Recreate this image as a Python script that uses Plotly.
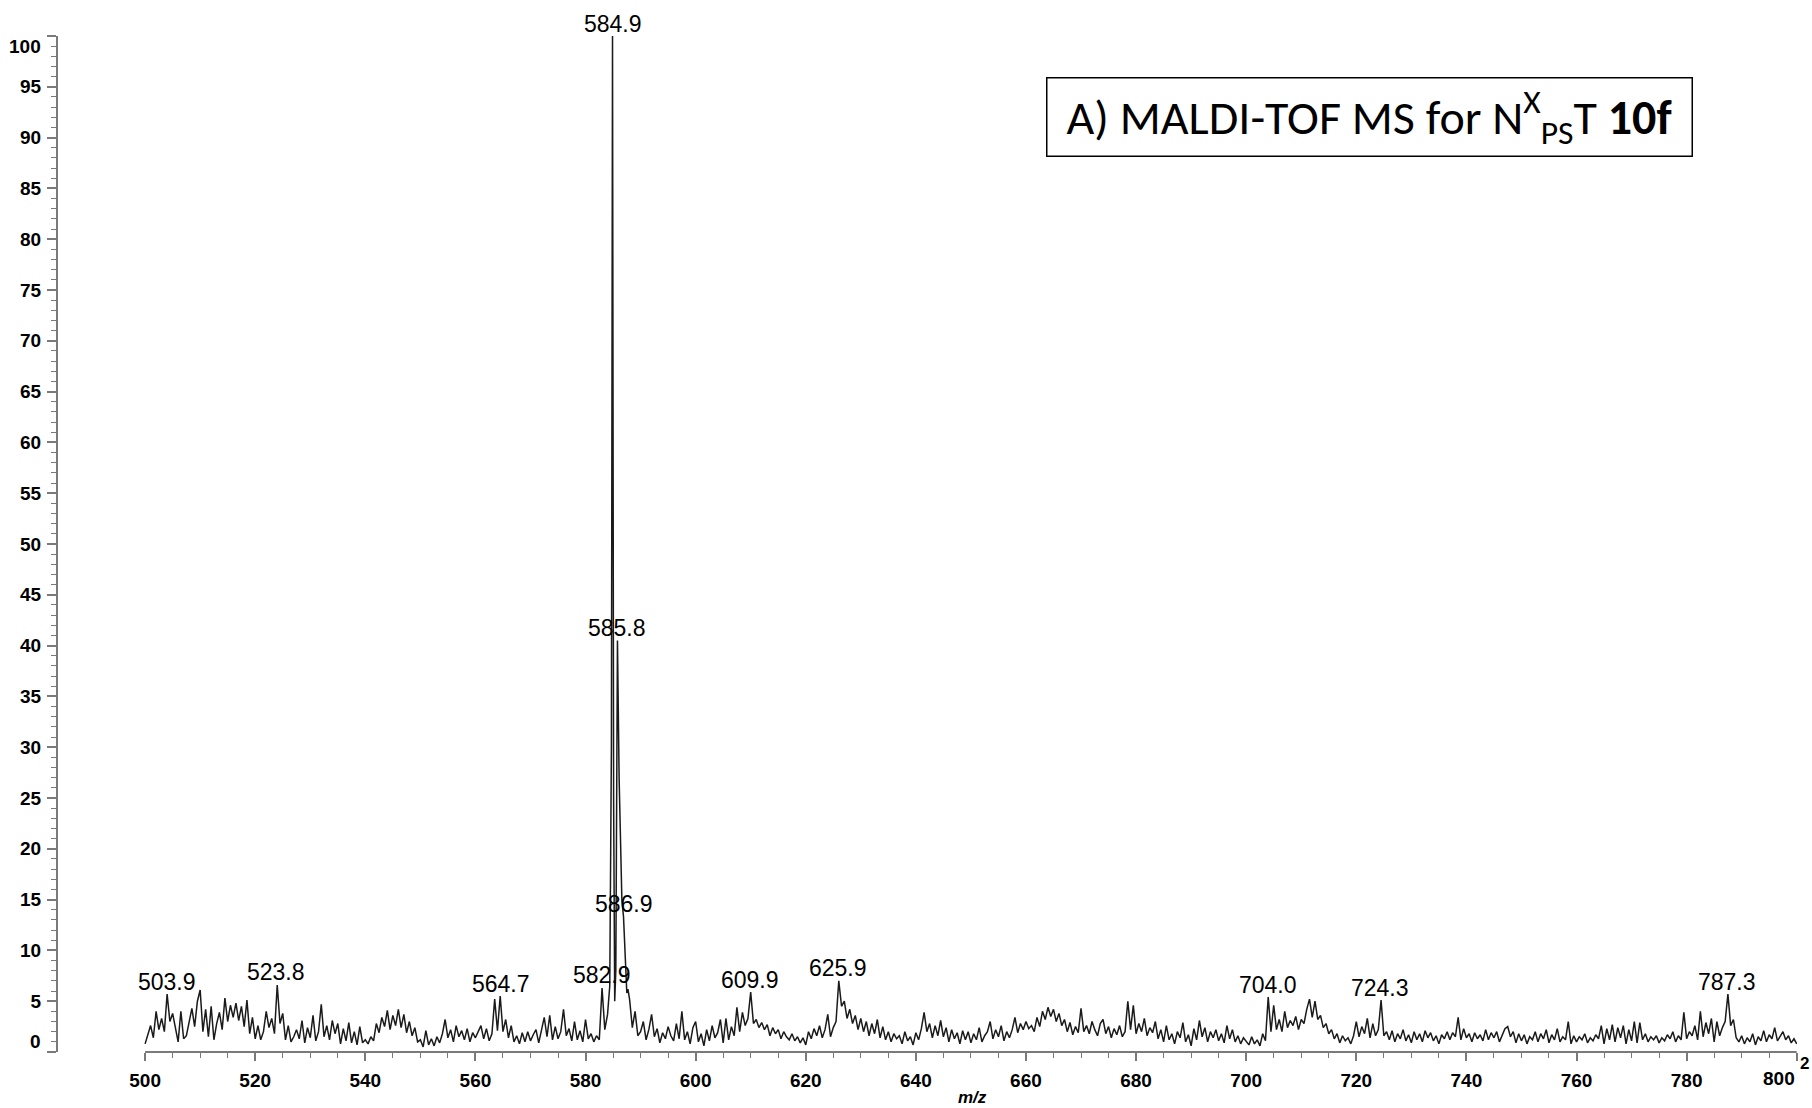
import plotly.graph_objects as go

# ---------------- data ----------------
STEP = 0.5  # m/z sampling interval of the spectrum rows

# baseline scan 500.0 .. 583.5 m/z (0.5 steps)
scan_a_start = 500.0
scan_a = [
    0.8, 1.6, 2.6, 1.4, 4.0, 2.2, 3.3, 2.0, 5.7, 3.0, 3.8, 2.4, 1.0, 4.0, 1.3, 1.6, 2.8, 4.3, 2.5, 5.0,  # 500
    6.1, 2.0, 4.2, 1.5, 4.5, 1.2, 2.8, 3.9, 2.2, 5.3, 3.0, 4.6, 3.4, 4.8, 3.1, 4.5, 2.5, 5.1, 1.8, 3.4,  # 510
    1.3, 2.6, 1.2, 2.0, 4.0, 2.4, 3.3, 1.8, 6.6, 2.8, 3.8, 1.2, 2.6, 1.0, 1.5, 2.2, 1.3, 3.1, 0.9, 2.4,  # 520
    1.4, 3.6, 1.1, 2.0, 4.7, 1.5, 2.6, 1.2, 3.1, 1.8, 2.8, 0.8, 2.3, 1.1, 2.9, 0.9, 2.0, 0.7, 2.5, 0.9,  # 530
    1.2, 0.8, 1.5, 1.1, 2.8, 1.9, 3.4, 2.5, 4.1, 2.2, 3.6, 2.6, 4.2, 2.4, 3.7, 1.9, 3.0, 1.6, 2.4, 1.0,  # 540
    1.2, 0.5, 2.1, 0.7, 1.3, 0.6, 1.5, 0.9, 1.8, 3.2, 1.4, 2.2, 1.0, 2.6, 1.5, 2.1, 1.2, 2.3, 1.0, 1.9,  # 550
    1.4, 2.0, 2.6, 1.3, 2.3, 1.1, 1.8, 5.2, 2.1, 5.5, 2.0, 3.2, 1.4, 2.6, 1.0, 1.6, 0.8, 1.9, 1.0, 2.0,  # 560
    1.1, 1.7, 2.2, 0.9, 2.0, 3.4, 1.5, 3.6, 1.2, 2.5, 1.3, 2.0, 4.2, 1.6, 2.3, 1.1, 3.0, 1.2, 2.1, 1.0,  # 570
    3.2, 1.3, 1.8, 1.0, 1.6, 1.2, 6.3, 2.2,                                                              # 580
]

# molecular-ion cluster (finely sampled)
peak_mz = [584.0, 584.4, 584.7, 584.9, 585.1, 585.3, 585.5, 585.8, 586.1, 586.4, 586.6, 586.9, 587.2, 587.5, 587.7]
peak_int = [3.7, 6.5, 30.0, 100.0, 25.0, 5.0, 8.0, 40.5, 27.0, 19.0, 15.0, 13.3, 9.0, 5.8, 6.2]

# baseline scan 588.0 .. 800.0 m/z (0.5 steps)
scan_b_start = 588.0
scan_b = [
    5.2, 2.4, 4.0, 1.6,                                                                                  # 588
    2.0, 3.0, 1.2, 2.2, 3.7, 1.5, 2.3, 0.9, 1.9, 1.3, 2.5, 1.6, 1.1, 2.8, 1.3, 4.0, 1.2, 2.0, 0.8, 2.4,  # 590
    3.0, 1.0, 1.8, 0.6, 2.2, 1.1, 2.6, 1.4, 1.9, 3.2, 0.9, 3.3, 1.2, 2.5, 1.6, 4.4, 2.0, 3.9, 2.6, 3.3,  # 600
    5.9, 2.8, 3.2, 2.4, 2.9, 2.2, 2.7, 1.6, 2.4, 1.8, 2.2, 1.3, 2.0, 1.5, 1.2, 1.8, 1.1, 1.5, 0.9, 1.4,  # 610
    0.7, 2.0, 1.3, 2.3, 1.6, 2.6, 1.4, 2.2, 3.7, 1.5, 2.4, 3.0, 7.0, 4.5, 5.0, 3.3, 4.2, 2.8, 3.6, 2.2,  # 620
    3.3, 2.0, 3.0, 1.6, 2.8, 1.8, 3.2, 1.4, 2.5, 1.2, 2.0, 1.0, 1.8, 1.3, 1.6, 0.8, 2.0, 1.1, 1.5, 0.7,  # 630
    1.9, 1.2, 2.3, 3.9, 2.0, 2.8, 1.4, 2.6, 1.6, 3.1, 1.5, 2.4, 1.0, 2.2, 1.3, 1.9, 0.8, 2.1, 1.2, 2.0,  # 640
    0.9, 1.8, 1.2, 2.4, 1.0, 1.6, 2.0, 3.0, 1.3, 2.2, 1.5, 2.6, 1.1, 2.0, 1.4, 2.2, 3.4, 1.9, 2.8, 2.2,  # 650
    3.0, 2.3, 2.6, 2.0, 3.4, 2.5, 4.0, 3.2, 4.4, 3.5, 4.2, 3.0, 3.8, 2.6, 3.2, 2.0, 2.9, 1.7, 2.5, 1.9,  # 660
    4.3, 2.0, 2.6, 1.8, 3.0, 2.2, 1.6, 2.8, 3.2, 1.8, 2.5, 1.4, 2.3, 1.7, 2.6, 1.5, 2.0, 5.0, 2.2, 4.6,  # 670
    1.8, 2.8, 2.0, 3.3, 1.6, 2.4, 1.9, 3.0, 1.3, 2.2, 1.0, 2.6, 1.2, 1.8, 0.8, 2.0, 1.4, 2.9, 1.0, 1.7,  # 680
    0.6, 2.3, 1.2, 3.1, 1.5, 2.4, 1.0, 2.0, 1.4, 2.2, 1.1, 1.8, 0.9, 2.6, 1.3, 2.2, 1.0, 1.6, 0.8, 1.4,  # 690
    1.0, 0.7, 1.5, 0.8, 1.2, 0.6, 1.8, 1.1, 5.4, 2.0, 4.6, 2.2, 3.2, 2.0, 4.0, 2.4, 3.1, 2.6, 3.5, 2.2,  # 700
    3.2, 2.8, 4.2, 5.2, 3.4, 5.0, 3.2, 3.6, 2.4, 2.8, 1.8, 2.2, 1.3, 1.8, 0.9, 1.6, 1.1, 1.4, 0.8, 1.6,  # 710
    3.0, 1.5, 2.5, 1.8, 3.3, 1.4, 2.8, 1.6, 2.2, 5.1, 1.6, 2.0, 1.2, 2.1, 1.0, 1.8, 1.3, 2.2, 1.1, 1.7,  # 720
    0.9, 2.0, 1.2, 1.8, 1.0, 2.1, 1.4, 1.9, 1.1, 1.6, 0.8, 1.7, 1.3, 2.0, 1.2, 1.9, 1.5, 3.4, 1.2, 2.3,  # 730
    1.4, 1.8, 1.0, 1.9, 1.3, 1.7, 1.1, 2.2, 1.2, 1.9, 1.4, 2.0, 1.0, 1.6, 2.3, 2.5, 1.5, 2.0, 0.9, 1.8,  # 740
    1.1, 1.7, 0.8, 1.5, 1.2, 2.0, 1.0, 1.8, 1.3, 2.2, 0.9, 1.7, 1.2, 2.3, 1.0, 1.5, 1.2, 3.0, 0.8, 1.6,  # 750
    1.0, 1.5, 1.2, 1.8, 0.9, 1.4, 1.1, 1.7, 1.3, 2.6, 0.8, 2.3, 1.2, 2.7, 1.0, 2.4, 1.4, 2.6, 0.8, 2.2,  # 760
    1.1, 3.0, 0.9, 2.9, 1.2, 1.8, 1.0, 1.5, 1.2, 1.6, 0.9, 1.4, 1.1, 1.7, 1.3, 2.0, 1.0, 1.6, 1.2, 3.9,  # 770
    1.3, 2.0, 1.6, 2.6, 1.2, 4.0, 1.5, 2.9, 1.8, 3.3, 1.0, 3.0, 1.6, 2.4, 3.0, 5.7, 2.6, 3.2, 1.4, 1.0,  # 780
    1.6, 0.8, 1.4, 1.0, 1.8, 0.7, 1.5, 1.1, 2.1, 1.0, 1.7, 1.3, 2.4, 1.1, 1.6, 2.0, 1.2, 1.6, 0.9, 1.3,  # 790
    0.8,                                                                                                 # 800
]

peak_labels = ["503.9", "523.8", "564.7", "582.9", "584.9", "585.8", "586.9",
               "609.9", "625.9", "704.0", "724.3", "787.3"]

x_major = [500, 520, 540, 560, 580, 600, 620, 640, 660, 680, 700, 720, 740, 760, 780, 800]
y_major = [0, 5, 10, 15, 20, 25, 30, 35, 40, 45, 50, 55, 60, 65, 70, 75, 80, 85, 90, 95, 100]

title_html = "A) MALDI-TOF MS for N<sup>X</sup><sub>PS</sub>T <b>10f</b>"

# ---------------- build spectrum ----------------
mz = ([scan_a_start + STEP * i for i in range(len(scan_a))] + peak_mz +
      [scan_b_start + STEP * i for i in range(len(scan_b))])
inten = scan_a + peak_int + scan_b

AX = "#7a7a7a"
FONT = "Arial, Liberation Sans, sans-serif"
TICKFONT = dict(family=FONT, size=19, color="black", weight="bold")

fig = go.Figure()
fig.add_trace(go.Scatter(x=mz, y=inten, mode="lines",
                         line=dict(color="#1a1a1a", width=1.5),
                         hoverinfo="skip", showlegend=False))

x_minor = [v for v in range(505, 800, 5) if v % 20 != 0]
y_minor = [v for v in range(1, 100) if v % 5 != 0]

fig.update_layout(
    width=1812, height=1108,
    margin=dict(l=58, r=15, t=36, b=56),
    paper_bgcolor="white", plot_bgcolor="white",
    xaxis=dict(range=[484.18, 800.05], showgrid=False, zeroline=False, showline=False,
               tickmode="array", tickvals=x_major,
               ticktext=[str(v) if v != 800 else " " for v in x_major],
               ticks="outside", ticklen=8, tickwidth=1.6, tickcolor=AX,
               tickfont=TICKFONT,
               ticklabelstandoff=3,
               minor=dict(tickmode="array", tickvals=x_minor, ticks="outside",
                          ticklen=5, tickwidth=1.4, tickcolor=AX)),
    yaxis=dict(range=[0, 100], showgrid=False, zeroline=False,
               showline=True, linecolor=AX, linewidth=2.2,
               tickmode="array", tickvals=y_major,
               ticktext=[" " if v in (0, 100) else str(v) for v in y_major],
               ticks="outside", ticklen=9, tickwidth=1.6, tickcolor=AX,
               tickfont=TICKFONT,
               ticklabelstandoff=2,
               minor=dict(tickmode="array", tickvals=y_minor, ticks="outside",
                          ticklen=5, tickwidth=1.4, tickcolor=AX)),
)

# x-axis line (starts at 500, detached from the y axis)
fig.add_shape(type="line", xref="x", yref="paper", x0=500, x1=800, y0=0, y1=0,
              line=dict(color=AX, width=2.2))

# peak labels, placed above the local maximum of the spectrum
for lab in peak_labels:
    c = float(lab)
    top = max(v for m, v in zip(mz, inten) if abs(m - c) <= 0.25)
    fig.add_annotation(x=c, y=top, xref="x", yref="y", text=lab, showarrow=False,
                       yanchor="middle", yshift=12.5,
                       font=dict(family=FONT, size=23, color="black"))

# end tick labels drawn inward as in the original software
fig.add_annotation(xref="paper", yref="y", x=-0.0086, y=100, yshift=-10, text="100",
                   showarrow=False, xanchor="right", yanchor="middle", font=TICKFONT)
fig.add_annotation(xref="paper", yref="y", x=-0.0086, y=0, yshift=11, text="0",
                   showarrow=False, xanchor="right", yanchor="middle", font=TICKFONT)
fig.add_annotation(xref="x", yref="paper", x=800, y=0, yshift=-26, text="800",
                   showarrow=False, xanchor="right", yanchor="middle", font=TICKFONT)
fig.add_annotation(xref="paper", yref="paper", x=1.0, y=0, xshift=7, yshift=-11, text="2",
                   showarrow=False, xanchor="center", yanchor="middle",
                   font=dict(family=FONT, size=17, color="black", weight="bold"))

# axis title m/z
fig.add_annotation(xref="paper", yref="paper", x=0.5256, y=0, yshift=-45,
                   text="<i>m/z</i>", showarrow=False, xanchor="center", yanchor="middle",
                   font=dict(family=FONT, size=17, color="black", weight="bold"))

# boxed title
fig.add_annotation(xref="paper", yref="paper", x=0.7539, y=0.9198,
                   text=title_html, showarrow=False, xanchor="center", yanchor="middle",
                   width=644, height=77, align="center", valign="middle",
                   bordercolor="black", borderwidth=1.5, borderpad=0, bgcolor="white",
                   font=dict(family="Calibri, Carlito, Lato, sans-serif", size=48, color="black"))

fig.write_html("out.html")
